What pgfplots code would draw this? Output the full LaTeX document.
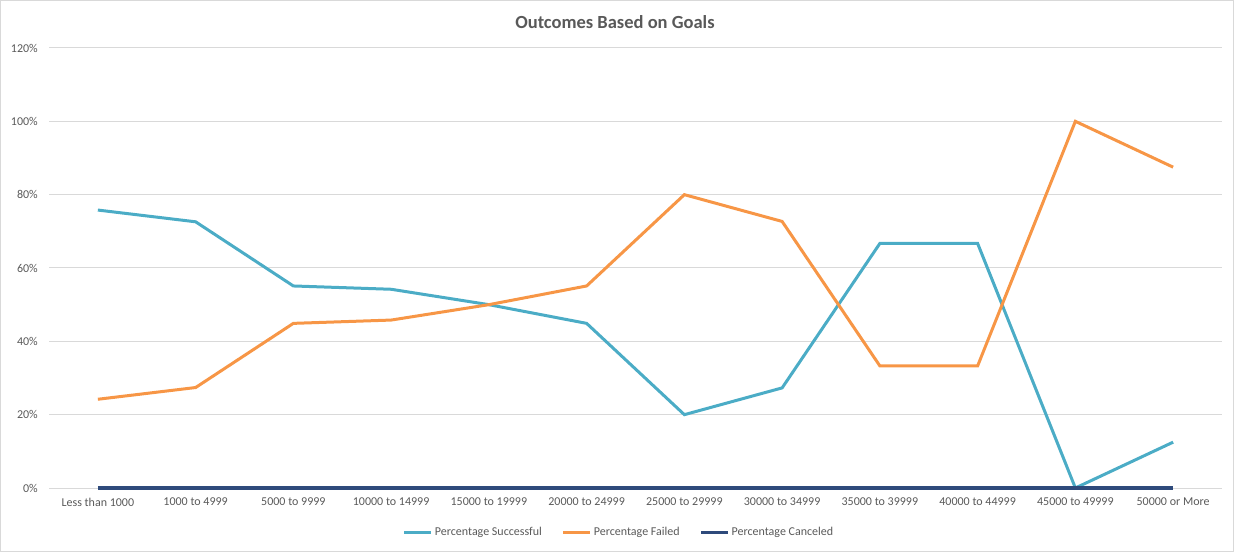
\documentclass[border=0pt]{standalone}
\usepackage{pgfplots}
\pgfplotsset{compat=1.18}
\usepackage{fontspec}
\setmainfont{Carlito}
\definecolor{succ}{HTML}{4BACC6}
\definecolor{fail}{HTML}{F79646}
\definecolor{canc}{HTML}{2E4A7B}
\definecolor{txt}{HTML}{595959}
\definecolor{grd}{HTML}{D9D9D9}
\begin{document}
\begin{tikzpicture}
\useasboundingbox (0,0) rectangle (1234bp,552bp);
\draw[grd, line width=1bp] (0.5bp,0.5bp) rectangle (1233.5bp,551.5bp);
\begin{axis}[
  at={(49bp,64bp)}, anchor=south west,
  scale only axis, width=1173bp, height=440bp,
  xmin=-0.5, xmax=11.5, ymin=0, ymax=120,
  clip=false,
  axis line style={draw=none},
  major tick length=0pt,
  ymajorgrids, grid style={grd, line width=1bp},
  xtick={0,...,11},
  xticklabels={Less than 1000,1000 to 4999,5000 to 9999,10000 to 14999,15000 to 19999,20000 to 24999,25000 to 29999,30000 to 34999,35000 to 39999,40000 to 44999,45000 to 49999,50000 or More},
  ytick={0,20,...,120},
  yticklabels={0\%,20\%,40\%,60\%,80\%,100\%,120\%},
  ticklabel style={font=\fontsize{12bp}{14bp}\selectfont, text=txt, inner sep=0pt},
  yticklabel style={anchor=east, xshift=-11bp},
  xticklabel style={anchor=north, yshift=-10bp},
  title={Outcomes Based on Goals},
  title style={font=\fontsize{18.5bp}{22bp}\selectfont\bfseries, text=txt, at={(0.4825,1)}, anchor=center, yshift=20bp},
  legend columns=-1,
  legend style={at={(0.486,-0.1)}, anchor=center, draw=none, fill=none,
    font=\fontsize{12bp}{14bp}\selectfont, text=txt,
    nodes={inner sep=2bp},
    /tikz/every even column/.append style={column sep=18bp}},
  legend image code/.code={\draw[#1] (0bp,0bp) -- (27bp,0bp);},
]
\addplot[succ, line width=3bp] coordinates {
(0,75.8) (1,72.6) (2,55.1) (3,54.2) (4,50.0) (5,44.9) (6,20.0) (7,27.3) (8,66.7) (9,66.7) (10,0) (11,12.5)};
\addlegendentry{Percentage Successful}
\addplot[fail, line width=3bp] coordinates {
(0,24.2) (1,27.4) (2,44.9) (3,45.8) (4,50.0) (5,55.1) (6,80.0) (7,72.7) (8,33.3) (9,33.3) (10,100) (11,87.5)};
\addlegendentry{Percentage Failed}
\addplot[canc, line width=3bp] coordinates {
(0,0) (1,0) (2,0) (3,0) (4,0) (5,0) (6,0) (7,0) (8,0) (9,0) (10,0) (11,0)};
\addlegendentry{Percentage Canceled}
\end{axis}
\end{tikzpicture}
\end{document}
